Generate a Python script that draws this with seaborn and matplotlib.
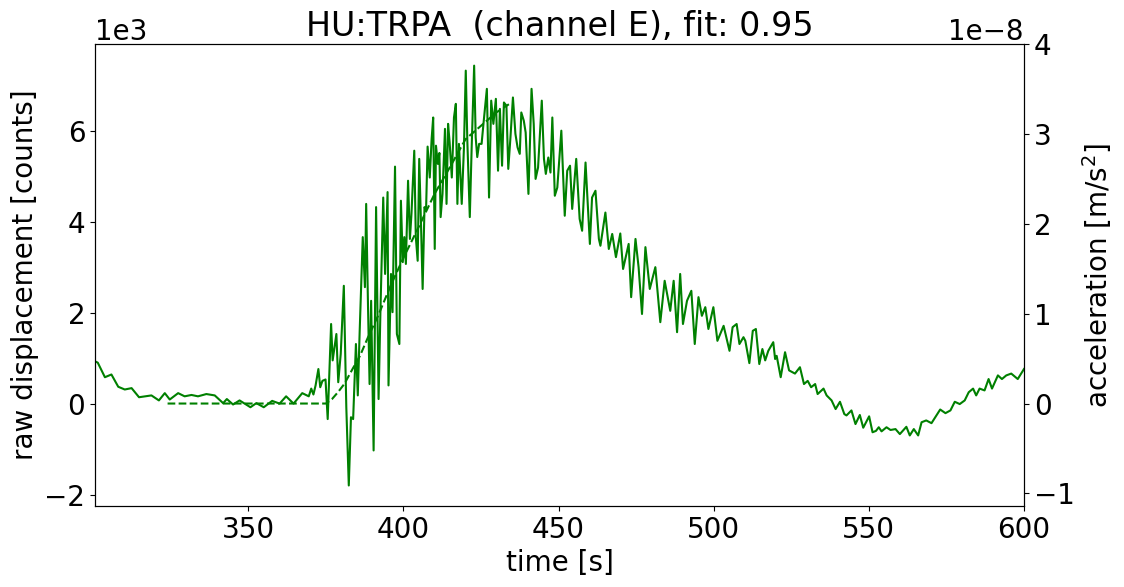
import numpy as np
import pandas as pd
import matplotlib
matplotlib.use("Agg")
import matplotlib.pyplot as plt
import seaborn as sns

# raw displacement (time [s], counts / 1e3)
time_s = [
    300.6, 301.5, 303.8, 305.9, 308.1, 310.2, 312.4, 314.8, 318.8, 321.2,
    323.1, 324.7, 327.4, 329.5, 331.7, 333.8, 336.5, 339.2, 341.9, 343.1,
    345.1, 347.2, 350.7, 352.6, 355.0, 357.7, 360.1, 362.2, 364.6, 367.4,
    369.5, 370.3, 371.0, 371.7, 372.6, 373.2, 373.9, 374.9, 375.6, 376.7,
    377.2, 378.4, 379.0, 379.8, 380.8, 381.6, 382.4, 383.1, 383.8, 384.7,
    385.3, 385.9, 386.9, 387.6, 388.0, 388.6, 389.1, 389.6, 390.4, 391.2,
    392.0, 392.6, 393.5, 394.1, 394.9, 395.2, 396.0, 396.5, 397.3, 397.9,
    398.7, 399.2, 399.8, 400.3, 400.8, 401.5, 402.1, 402.6, 403.5, 404.0,
    404.6, 405.1, 405.7, 406.2, 406.8, 407.3, 407.8, 408.5, 409.1, 409.6,
    410.1, 410.5, 411.1, 411.6, 412.0, 412.6, 413.4, 413.9, 414.4, 414.9,
    415.6, 416.3, 416.9, 417.4, 417.9, 418.8, 419.5, 420.1, 420.6, 421.4,
    422.0, 422.8, 423.3, 423.8, 424.4, 425.2, 425.9, 426.9, 427.6, 428.3,
    429.0, 429.8, 430.5, 431.1, 431.8, 432.4, 433.2, 433.8, 434.5, 435.3,
    436.1, 436.8, 437.5, 438.0, 438.8, 439.4, 440.3, 441.3, 442.0, 442.6,
    443.4, 444.6, 445.3, 445.9, 446.7, 447.4, 448.0, 448.8, 449.6, 450.9,
    452.0, 452.8, 453.7, 454.4, 455.7, 456.8, 457.6, 458.7, 460.1, 460.8,
    461.9, 463.0, 463.5, 465.1, 466.2, 467.3, 468.5, 469.9, 470.8, 472.6,
    473.4, 474.8, 475.8, 476.9, 478.0, 479.4, 481.2, 482.8, 484.2, 486.0,
    487.1, 488.2, 489.2, 490.1, 491.4, 492.8, 493.9, 495.1, 496.2, 497.3,
    498.3, 499.9, 501.2, 503.2, 505.1, 506.1, 507.4, 508.3, 509.6, 510.2,
    511.5, 512.6, 513.6, 514.7, 515.7, 516.6, 517.6, 519.2, 519.8, 520.3,
    521.6, 523.0, 524.3, 526.2, 527.8, 529.1, 530.3, 531.4, 532.7, 533.5,
    535.4, 536.4, 538.0, 539.3, 540.7, 542.1, 542.8, 544.4, 545.7, 547.1,
    548.2, 550.1, 551.2, 552.3, 553.2, 554.1, 555.7, 557.0, 558.6, 560.0,
    562.1, 563.2, 564.5, 565.9, 567.0, 568.5, 570.2, 571.4, 573.0, 574.7,
    576.3, 577.7, 579.3, 580.9, 582.2, 583.6, 584.6, 585.7, 587.3, 588.6,
    589.7, 591.6, 592.9, 594.3, 595.9, 598.0, 600.0,
]
disp_k = [
    0.93, 0.90, 0.58, 0.64, 0.37, 0.31, 0.34, 0.14, 0.18, 0.07,
    0.23, 0.09, 0.23, 0.16, 0.19, 0.16, 0.21, 0.18, 0.01, 0.10,
    -0.02, 0.07, -0.08, 0.01, -0.08, 0.06, 0.00, 0.16, 0.00, 0.23,
    0.16, 0.33, 0.20, 0.40, 0.76, 0.36, 0.50, 0.53, -0.34, 1.75,
    0.95, 1.53, 0.47, 1.09, 2.59, -0.08, -1.80, -0.30, -0.34, 1.31,
    0.18, 1.57, 3.66, 2.56, 4.39, 2.12, 0.43, 2.26, -1.03, 4.32,
    0.10, 2.04, 4.53, 2.85, 4.65, 0.40, 2.85, 2.01, 5.21, 1.53,
    1.31, 4.46, 3.11, 3.66, 3.07, 4.90, 3.62, 4.17, 5.56, 3.66,
    3.14, 5.38, 3.88, 2.52, 4.32, 4.24, 5.65, 4.97, 5.82, 6.29,
    3.40, 5.67, 5.27, 5.51, 4.10, 4.61, 6.04, 4.39, 6.15, 5.74,
    4.97, 6.29, 6.59, 4.39, 5.71, 4.39, 5.60, 7.32, 5.78, 4.10,
    5.63, 7.43, 5.85, 5.42, 5.71, 5.71, 6.22, 6.92, 4.53, 6.66,
    6.15, 6.70, 5.12, 6.48, 5.23, 6.62, 6.55, 5.16, 5.85, 6.73,
    5.93, 5.63, 5.49, 6.40, 6.22, 5.96, 4.61, 6.92, 6.15, 4.94,
    5.19, 6.66, 5.38, 5.05, 5.41, 5.08, 6.29, 4.57, 4.75, 6.00,
    4.13, 5.12, 5.23, 4.28, 5.38, 4.06, 3.80, 5.30, 3.51, 4.53,
    4.68, 3.62, 3.47, 4.20, 3.40, 3.73, 3.22, 3.74, 2.96, 3.51,
    2.34, 3.62, 3.00, 1.97, 3.44, 2.52, 3.00, 1.79, 2.70, 2.04,
    2.70, 1.57, 2.85, 1.75, 2.26, 2.48, 1.31, 2.34, 1.93, 2.12,
    1.64, 2.12, 1.38, 1.71, 1.16, 1.68, 1.75, 1.31, 1.46, 1.38,
    0.89, 1.60, 1.64, 0.87, 1.20, 0.95, 1.16, 1.35, 0.98, 1.05,
    0.58, 1.13, 0.73, 0.66, 0.80, 0.43, 0.50, 0.36, 0.43, 0.21,
    0.33, 0.18, 0.07, -0.12, 0.04, -0.23, -0.26, -0.15, -0.45, -0.25,
    -0.53, -0.28, -0.63, -0.60, -0.52, -0.61, -0.52, -0.58, -0.56, -0.67,
    -0.51, -0.70, -0.56, -0.70, -0.41, -0.37, -0.43, -0.30, -0.13, -0.21,
    -0.15, 0.04, -0.01, 0.07, 0.25, 0.33, 0.18, 0.33, 0.29, 0.54,
    0.33, 0.62, 0.54, 0.62, 0.66, 0.54, 0.76,
]

# fitted acceleration (time [s], 1e-8 m/s^2)
fit_time = [324.0, 375.0, 377.0, 379.0, 381.0, 383.7, 386.0, 388.5, 392.0,
            396.0, 400.0, 405.0, 410.0, 415.0, 420.0, 425.0, 430.0, 434.0]
fit_acc = [0.00, 0.00, 0.05, 0.13, 0.22, 0.39, 0.53, 0.73, 0.99,
           1.32, 1.62, 1.97, 2.33, 2.63, 2.94, 3.09, 3.24, 3.33]

station = "HU:TRPA"
channel = "E"
fit_score = 0.95

plt.rcParams["font.size"] = 20

raw = pd.DataFrame({"t": time_s, "counts": np.array(disp_k) * 1e3})
fit = pd.DataFrame({"t": fit_time, "acc": np.array(fit_acc) * 1e-8})

fig, ax = plt.subplots(figsize=(11.24, 5.87), dpi=100)
fig.subplots_adjust(left=0.0845, right=0.911, bottom=0.138, top=0.925)

sns.lineplot(data=raw, x="t", y="counts", ax=ax, color="green",
             linewidth=1.5, estimator=None, sort=False)
ax.set_xlim(300.6, 600)
ax.set_ylim(-2251, 7905)
ax.ticklabel_format(axis="y", style="sci", scilimits=(0, 0))
ax.set_xlabel("time [s]")
ax.set_ylabel("raw displacement [counts]")
ax.set_title(f"{station}  (channel {channel}), fit: {fit_score}")

ax2 = ax.twinx()
sns.lineplot(data=fit, x="t", y="acc", ax=ax2, color="green",
             linewidth=1.5, linestyle="--", estimator=None, sort=False)
ax2.set_ylim(-1.14e-8, 4.0e-8)
ax2.set_ylabel("acceleration [m/s$^2$]")

plt.savefig("out.png", dpi=100)
